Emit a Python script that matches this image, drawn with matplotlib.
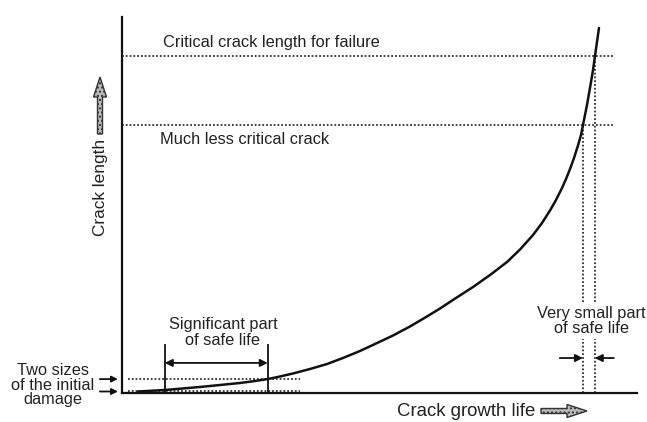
import matplotlib
matplotlib.use("Agg")
import matplotlib.pyplot as plt
from matplotlib.patches import FancyArrow

plt.rcParams['font.family'] = ['Liberation Sans', 'DejaVu Sans']

# Crack growth curve (life vs crack length, arbitrary units 0-100)
life = [3.11, 8.35, 15.15, 22.91, 25.83, 28.35, 30.68, 33.20, 36.50, 39.81,
        42.91, 46.21, 49.32, 52.62, 55.92, 59.22, 61.75, 64.85, 68.16, 71.46,
        74.76, 77.28, 79.81, 81.55, 83.11, 84.27, 85.44, 86.21, 86.99, 87.77,
        88.54, 89.13, 89.51, 90.29, 90.87, 91.46, 91.84, 92.62]
crack = [0.40, 0.80, 1.60, 2.66, 3.19, 3.72, 4.39, 5.19, 6.38, 7.71,
         9.31, 11.17, 13.16, 15.29, 17.69, 20.35, 22.47, 25.27, 28.19, 31.38,
         34.84, 38.16, 42.02, 45.21, 48.54, 51.33, 54.52, 56.91, 59.57, 62.50,
         65.82, 68.62, 71.28, 76.60, 81.12, 85.90, 89.63, 97.07]

# Reference crack sizes
critical_crack = 89.6
less_critical_crack = 71.3
initial_damage = [3.7, 0.4]

# Life intervals
significant_life = [8.3, 28.3]
small_life = [89.5, 91.8]

level_labels = ["Critical crack length for failure", "Much less critical crack"]

W, H = 647, 422
fig = plt.figure(figsize=(W / 100, H / 100), dpi=100)
ax = fig.add_axes([122 / W, (H - 393) / H, (637 - 122) / W, (393 - 17) / H])
ax.set_xlim(0, 100)
ax.set_ylim(0, 100)
for s in ["top", "right"]:
    ax.spines[s].set_visible(False)
for s in ["left", "bottom"]:
    ax.spines[s].set_linewidth(1.6)
    ax.spines[s].set_color("#111111")
ax.set_xticks([])
ax.set_yticks([])

dot = dict(color="#333333", lw=1.3, linestyle=(0, (1, 1.1)))
txt = dict(fontsize=11.8, color="#222222")

# crack growth curve
ax.plot(life, crack, color="#111111", lw=1.8, solid_capstyle="round",
        solid_joinstyle="round", zorder=4)

# critical levels
for lvl in [critical_crack, less_critical_crack]:
    ax.plot([0, 95.3], [lvl, lvl], **dot)
ax.text(8.0, 93.1, level_labels[0], ha="left", va="center", **txt)
ax.text(7.4, 67.4, level_labels[1], ha="left", va="center", **txt)

# initial damage levels
for lvl in initial_damage:
    ax.plot([1.2, 34.6], [lvl, lvl], **dot)

# vertical dotted lines at the end of life
ax.plot([small_life[0], small_life[0]], [0, less_critical_crack], **dot)
ax.plot([small_life[1], small_life[1]], [0, critical_crack], **dot)

# significant part of safe life
for x in significant_life:
    ax.plot([x, x], [0, 12.8], color="#111111", lw=1.3)
ax.annotate("", xy=(significant_life[0], 8.0), xytext=(significant_life[1], 8.0),
            arrowprops=dict(arrowstyle="<|-|>", color="#111111", lw=1.3,
                            mutation_scale=11, shrinkA=0, shrinkB=0))
ax.text(19.6, 16.0, "Significant part\nof safe life", ha="center", va="center",
        linespacing=1.1, **txt)

# very small part of safe life
ax.annotate("", xy=(small_life[0], 9.3), xytext=(85.0, 9.3),
            arrowprops=dict(arrowstyle="-|>", color="#111111", lw=1.3,
                            mutation_scale=11, shrinkA=0, shrinkB=0))
ax.annotate("", xy=(small_life[1], 9.3), xytext=(95.5, 9.3),
            arrowprops=dict(arrowstyle="-|>", color="#111111", lw=1.3,
                            mutation_scale=11, shrinkA=0, shrinkB=0),
            annotation_clip=False)
ax.text(91.1, 19.1, "Very small part\nof safe life", ha="center", va="center",
        linespacing=1.05, zorder=5, clip_on=False,
        bbox=dict(fc="white", ec="none", pad=1.5), **txt)

# two sizes of initial damage
for lvl in initial_damage:
    ax.annotate("", xy=(-0.8, lvl), xytext=(-4.3, lvl), annotation_clip=False,
                arrowprops=dict(arrowstyle="-|>", color="#111111", lw=1.3,
                                mutation_scale=9, shrinkA=0, shrinkB=0))

# overlay in pixel units for axis titles
ov = fig.add_axes([0, 0, 1, 1], zorder=-1)
ov.set_xlim(0, W)
ov.set_ylim(H, 0)
ov.axis("off")

ov.text(53, 385, "Two sizes\nof the initial\ndamage", ha="center", va="center",
        linespacing=0.92, **txt)

ov.text(466, 412, "Crack growth life", ha="center", va="center",
        fontsize=13.4, color="#222222")
ov.text(100, 187, "Crack length", ha="center", va="center", rotation=90,
        fontsize=12.4, color="#222222")

ov.add_patch(FancyArrow(541, 411, 46, 0, width=5, head_width=13, head_length=20,
                        length_includes_head=True, fc="#bbbbbb", ec="#333333",
                        lw=1.0, hatch="...."))
ov.add_patch(FancyArrow(100, 134, 0, -57, width=5, head_width=13, head_length=20,
                        length_includes_head=True, fc="#bbbbbb", ec="#333333",
                        lw=1.0, hatch="...."))

fig.savefig("out.png", dpi=100)
